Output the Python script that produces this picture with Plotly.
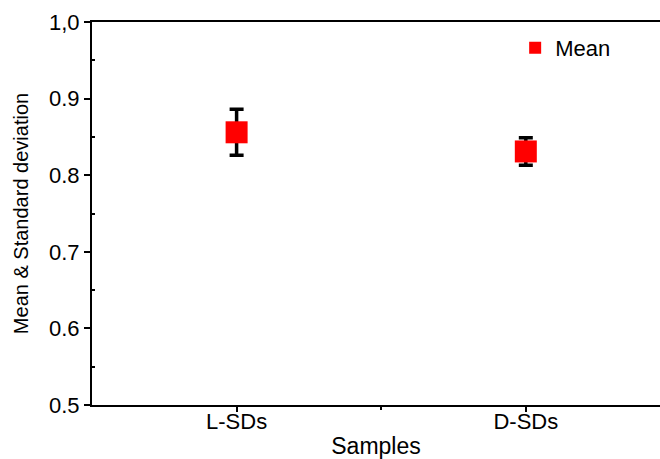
import plotly.graph_objects as go

categories = ["L-SDs", "D-SDs"]
means = [0.856, 0.831]
sds = [0.030, 0.018]
y_tickvals = [0.5, 0.6, 0.7, 0.8, 0.9, 1.0]
y_ticktext = ["0.5", "0.6", "0.7", "0.8", "0.9", "1,0"]

xpos = list(range(len(categories)))

fig = go.Figure()
fig.add_trace(go.Scatter(
    x=xpos, y=means, mode="markers", name="Mean",
    marker=dict(symbol="square", size=22, color="#ff0000", line=dict(width=0)),
    error_y=dict(type="data", array=sds, visible=True, color="black", thickness=3.5, width=7),
))

font = "Liberation Sans, Arial, sans-serif"
fig.update_layout(
    width=660, height=459,
    margin=dict(l=92, r=0, t=22, b=54),
    paper_bgcolor="white", plot_bgcolor="white",
    font=dict(family=font, color="black"),
    showlegend=True,
    legend=dict(x=0.745, y=0.987, xanchor="left", yanchor="top", itemsizing="constant",
                font=dict(size=22, family=font), bgcolor="rgba(0,0,0,0)", itemwidth=30),
    xaxis=dict(
        range=[-0.5, 1.464], tickvals=xpos, ticktext=categories,
        showgrid=False, zeroline=False, showline=True, linecolor="black", linewidth=2,
        mirror=True, ticks="outside", ticklen=5, tickwidth=1.5, tickcolor="black",
        tickfont=dict(size=22), ticklabelstandoff=-9,
        title=dict(text="Samples", font=dict(size=23), standoff=6),
        minor=dict(tickvals=[0.5], ticks="outside", ticklen=3, tickcolor="black", tickwidth=1.5),
    ),
    yaxis=dict(
        range=[0.5, 1.0], tickvals=y_tickvals, ticktext=y_ticktext,
        showgrid=False, zeroline=False, showline=True, linecolor="black", linewidth=2,
        ticks="outside", ticklen=6, tickwidth=1.5, tickcolor="black",
        tickfont=dict(size=22), title=dict(text="Mean & Standard deviation", font=dict(size=20), standoff=15),
        minor=dict(tickvals=[0.55, 0.65, 0.75, 0.85, 0.95], ticks="inside", ticklen=3, tickcolor="black", tickwidth=1.5),
    ),
)

fig.write_html("out.html")
